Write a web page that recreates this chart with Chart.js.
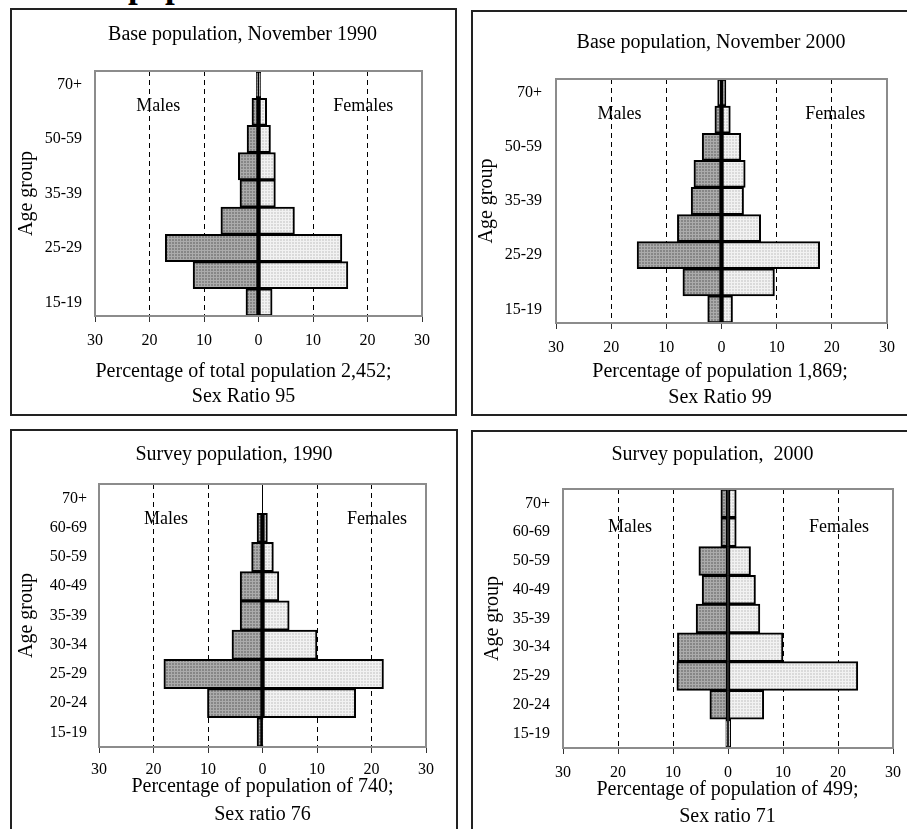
<!DOCTYPE html>
<html>
<head>
<meta charset="utf-8">
<script src="https://cdn.jsdelivr.net/npm/chart.js@4.4.1/dist/chart.umd.min.js"></script>
<style>
  html, body { margin: 0; padding: 0; background: #fff; overflow: hidden; width: 907px; height: 829px; }
  .panel { position: absolute; border: 2px solid #222; box-sizing: border-box; background: #fff; overflow: hidden; }
  .panel canvas { position: absolute; left: 0; top: 0; }
  #heading { position: absolute; left: 128px; top: -32px; font: bold 35px 'Liberation Serif', serif; line-height: 35px; white-space: nowrap; }
</style>
</head>
<body>
<div id="heading">population</div>
<div class="panel" id="p1"><canvas id="c1"></canvas></div>
<div class="panel" id="p2"><canvas id="c2"></canvas></div>
<div class="panel" id="p3"><canvas id="c3"></canvas></div>
<div class="panel" id="p4"><canvas id="c4"></canvas></div>
<script>
// Categories (bottom to top)
const ageGroups = ['15-19', '20-24', '25-29', '30-34', '35-39', '40-49', '50-59', '60-69', '70+'];
// Base population charts only label every other group
const sparseAgeLabels = ['15-19', '', '25-29', '', '35-39', '', '50-59', '', '70+'];

// Percentages
const base1990Males = [2.3, 12.0, 17.1, 6.9, 3.4, 3.7, 2.1, 1.2, 0.4];
const base1990Females = [2.5, 16.4, 15.3, 6.6, 3.1, 3.1, 2.2, 1.5, 0.4];
const base2000Males = [2.5, 7.0, 15.3, 8.0, 5.5, 5.0, 3.5, 1.2, 0.7];
const base2000Females = [2.0, 9.6, 17.8, 7.1, 4.0, 4.3, 3.5, 1.6, 0.8];
const survey1990Males = [1.0, 10.1, 18.1, 5.6, 4.1, 4.1, 2.0, 1.0, 0];
const survey1990Females = [0.1, 17.1, 22.2, 10.0, 4.9, 3.0, 2.0, 0.9, 0];
const survey2000Males = [0.4, 3.3, 9.3, 9.2, 5.8, 4.7, 5.3, 1.3, 1.3];
const survey2000Females = [0.5, 6.5, 23.6, 10.0, 5.8, 5.0, 4.1, 1.5, 1.5];

const xTickValues = [-30, -20, -10, 0, 10, 20, 30];

const FONT = "'Liberation Serif', 'Times New Roman', serif";

function makePattern(ctx, base, light) {
  const c = document.createElement('canvas');
  c.width = 3; c.height = 3;
  const g = c.getContext('2d');
  g.fillStyle = base; g.fillRect(0, 0, 3, 3);
  g.fillStyle = light; g.fillRect(0, 0, 3, 1); g.fillRect(0, 0, 1, 3);
  return ctx.createPattern(c, 'repeat');
}

// frame, zero line, captions and titles
const pyramidDecor = {
  id: 'pyramidDecor',
  beforeDatasetsDraw(chart, args, opts) {
    const { ctx, chartArea: a, scales: { x } } = chart;
    const x0 = x.getPixelForValue(0);
    ctx.save();
    ctx.strokeStyle = '#000';
    ctx.lineWidth = 1;
    ctx.beginPath();
    ctx.moveTo(x0, a.top);
    ctx.lineTo(x0, a.bottom);
    ctx.stroke();
    ctx.font = '18px ' + FONT;
    ctx.fillStyle = '#000';
    ctx.textAlign = 'center';
    ctx.textBaseline = 'middle';
    const ly = a.top + (a.bottom - a.top) * opts.captionY;
    ctx.fillText('Males', x.getPixelForValue(opts.captionX[0]), ly);
    ctx.fillText('Females', x.getPixelForValue(opts.captionX[1]), ly);
    ctx.restore();
  },
  afterDatasetsDraw(chart) {
    const { ctx, chartArea: a } = chart;
    ctx.save();
    ctx.strokeStyle = '#8c8c8c';
    ctx.lineWidth = 2;
    ctx.strokeRect(a.left, a.top, a.right - a.left, a.bottom - a.top);
    ctx.restore();
  },
  afterDraw(chart, args, opts) {
    const { ctx } = chart;
    ctx.save();
    ctx.font = '20px ' + FONT;
    ctx.fillStyle = '#000';
    ctx.textAlign = 'center';
    ctx.textBaseline = 'middle';
    ctx.fillText(opts.title, opts.titleX, opts.titleY);
    opts.xTitle.forEach((line, i) => ctx.fillText(line, opts.xTitleX, opts.xTitleY[i]));
    ctx.restore();
  }
};

function buildPyramid(id, geo, title, males, females, yLabels, xTitle) {
  const panel = document.getElementById('p' + id);
  const [bx, by, bw, bh] = geo.box;
  panel.style.left = bx + 'px';
  panel.style.top = by + 'px';
  panel.style.width = bw + 'px';
  panel.style.height = bh + 'px';

  const canvas = document.getElementById('c' + id);
  const ox = bx + 2, oy = by + 2, cw = bw - 4, ch = bh - 4;
  canvas.width = cw;
  canvas.height = ch;
  const ctx = canvas.getContext('2d');

  const [pl, pt, pr, pb] = geo.plot;

  new Chart(ctx, {
    type: 'bar',
    data: {
      labels: ageGroups,
      datasets: [
        {
          label: 'Males',
          data: males.map(v => -v),
          backgroundColor: makePattern(ctx, '#868686', '#ababab'),
          borderColor: '#000',
          borderWidth: 2,
          borderSkipped: false,
          barPercentage: 1,
          categoryPercentage: 1
        },
        {
          label: 'Females',
          data: females,
          backgroundColor: makePattern(ctx, '#dadada', '#f2f2f2'),
          borderColor: '#000',
          borderWidth: 2,
          borderSkipped: false,
          barPercentage: 1,
          categoryPercentage: 1
        }
      ]
    },
    options: {
      indexAxis: 'y',
      responsive: false,
      animation: false,
      layout: { padding: { left: 0, top: pt - oy, bottom: 0, right: cw - (pr - ox) } },
      plugins: {
        legend: { display: false },
        tooltip: { enabled: false },
        title: { display: false },
        pyramidDecor: {
          title: title,
          titleX: geo.title[0] - ox,
          titleY: geo.title[1] - oy,
          xTitle: xTitle,
          xTitleX: geo.xTitle[0] - ox,
          xTitleY: geo.xTitle.slice(1).map(v => v - oy),
          captionX: geo.captionX,
          captionY: geo.captionY
        }
      },
      scales: {
        x: {
          stacked: true,
          min: -30,
          max: 30,
          afterFit: s => { s.height = ch - (pb - oy); },
          afterBuildTicks: s => { s.ticks = xTickValues.map(v => ({ value: v })); },
          ticks: {
            color: '#000',
            font: { family: FONT, size: 16, lineHeight: 1.2 },
            padding: geo.tickY - pb - 6 - 9.6,
            callback: v => Math.abs(v)
          },
          grid: {
            color: c => (c.tick && (c.tick.value === 0 || Math.abs(c.tick.value) === 30)) ? 'rgba(0,0,0,0)' : '#000',
            lineWidth: 1,
            drawTicks: true,
            tickLength: 6,
            tickColor: '#333',
            tickWidth: 1
          },
          border: { display: false, dash: [5, 4] }
        },
        y: {
          stacked: true,
          reverse: true,
          afterFit: s => { s.width = pl - ox; },
          ticks: {
            autoSkip: false,
            color: '#000',
            font: { family: FONT, size: 16 },
            padding: pl - geo.labelRight,
            callback: (v, i) => yLabels[i]
          },
          grid: { display: false, drawTicks: false },
          border: { display: false },
          title: {
            display: true,
            text: 'Age group',
            color: '#000',
            font: { family: FONT, size: 20, lineHeight: 1.2 },
            padding: { top: geo.yTitleX - ox - 12, bottom: 0 }
          }
        }
      }
    },
    plugins: [pyramidDecor]
  });
}

buildPyramid(1,
  { box: [10, 8, 447, 408], plot: [95, 71, 422, 316], title: [242.5, 35], tickY: 341,
    xTitle: [243.5, 372, 397], yTitleX: 27, labelRight: 82, captionX: [-18.4, 19.2], captionY: 0.143 },
  'Base population, November 1990', base1990Males, base1990Females, sparseAgeLabels,
  ['Percentage of total population 2,452;', 'Sex Ratio 95']);

buildPyramid(2,
  { box: [471, 10, 442, 406], plot: [556, 79, 887, 323], title: [711, 43], tickY: 348,
    xTitle: [720, 372, 398], yTitleX: 487, labelRight: 542, captionX: [-18.5, 20.6], captionY: 0.143 },
  'Base population, November 2000', base2000Males, base2000Females, sparseAgeLabels,
  ['Percentage of population 1,869;', 'Sex Ratio 99']);

buildPyramid(3,
  { box: [10, 429, 448, 420], plot: [99, 484, 426, 747], title: [234, 455], tickY: 770,
    xTitle: [262.5, 787, 815], yTitleX: 27, labelRight: 87, captionX: [-17.7, 21], captionY: 0.133 },
  'Survey population, 1990', survey1990Males, survey1990Females, ageGroups,
  ['Percentage of population of 740;', 'Sex ratio 76']);

buildPyramid(4,
  { box: [471, 430, 442, 420], plot: [563, 489, 893, 748], title: [712.5, 455], tickY: 773,
    xTitle: [727.5, 790, 817], yTitleX: 493, labelRight: 550, captionX: [-17.8, 20.2], captionY: 0.147 },
  'Survey population,  2000', survey2000Males, survey2000Females, ageGroups,
  ['Percentage of population of 499;', 'Sex ratio 71']);
</script>
</body>
</html>
